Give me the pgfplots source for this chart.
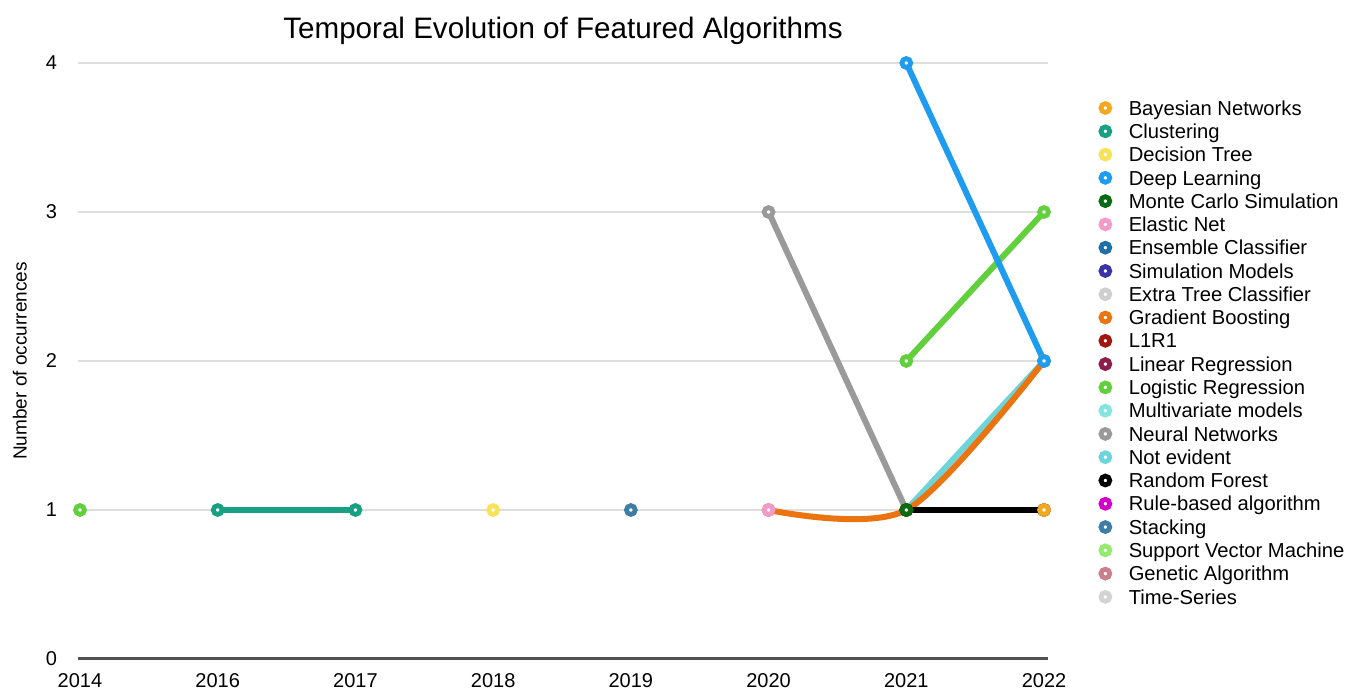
\documentclass[border=0pt]{standalone}
\usepackage{fontspec}
\setmainfont{Liberation Sans}
\usepackage{pgfplots}
\pgfplotsset{compat=1.18}

\definecolor{cBayes}{HTML}{F2A91F}
\definecolor{cClust}{HTML}{18A085}
\definecolor{cDTree}{HTML}{F7E35A}
\definecolor{cDeep}{HTML}{1E9CF0}
\definecolor{cMonte}{HTML}{0A6B12}
\definecolor{cElastic}{HTML}{F29BCB}
\definecolor{cEnsemble}{HTML}{1F6FA8}
\definecolor{cSimMod}{HTML}{3C34A5}
\definecolor{cExtra}{HTML}{CFCFCF}
\definecolor{cGrad}{HTML}{EB7310}
\definecolor{cLOneROne}{HTML}{A3150F}
\definecolor{cLinReg}{HTML}{8C1D4C}
\definecolor{cLogReg}{HTML}{62CF3C}
\definecolor{cMulti}{HTML}{82E5E0}
\definecolor{cNeural}{HTML}{9A9A9A}
\definecolor{cNotEv}{HTML}{6DD5DA}
\definecolor{cRF}{HTML}{000000}
\definecolor{cRule}{HTML}{D400C9}
\definecolor{cStack}{HTML}{3E7DA6}
\definecolor{cSVM}{HTML}{92EB6C}
\definecolor{cGenetic}{HTML}{C9808A}
\definecolor{cTime}{HTML}{D3D3D3}

\pgfplotsset{
  ring/.style={draw=#1, mark=*, mark size=2.2pt,
    mark options={fill=white, draw=#1, line width=2.4pt, solid}},
  trend/.style={ring=#1, line width=3pt, line cap=round, forget plot},
}

\begin{document}
\begin{tikzpicture}
\useasboundingbox (-39pt,-17.5pt) rectangle (644.5pt,329.5pt);
\begin{axis}[
  width=485pt, height=298pt, scale only axis,
  xmin=-0.0145, xmax=7.029, ymin=0, ymax=4,
  clip=false,
  unbounded coords=jump,
  xtick={0,...,7},
  xticklabels={2014,2016,2017,2018,2019,2020,2021,2022},
  ytick={1,2,3,4},
  extra y ticks={0},
  extra y tick style={ymajorgrids=true, major grid style={draw=black!68, line width=1.5pt}},
  ymajorgrids,
  major grid style={draw=black!13, line width=0.75pt},
  axis line style={draw=none},
  major tick length=0pt,
  tick label style={font=\fontsize{10}{12}\selectfont},
  /pgf/number format/assume math mode=true,
  xticklabel style={yshift=-3.5pt},
  yticklabel style={xshift=-7pt},
  ylabel={Number of occurrences},
  ylabel style={at={(axis description cs:-0.06,0.5)}, anchor=center,
    font=\fontsize{9.5}{11}\selectfont},
  title={Temporal Evolution of Featured Algorithms},
  title style={at={(axis description cs:0.5,1)}, anchor=base, yshift=6pt,
    font=\fontsize{14.8}{17}\selectfont},
  legend cell align=left,
  legend image code/.code={\draw[#1, /tikz/only marks] plot coordinates {(0pt,0pt)};},
  legend style={at={(axis description cs:1.0546,0.944)}, anchor=north west,
    draw=none, fill=none, inner sep=0pt, outer sep=0pt,
    row sep=0pt, column sep=9.5pt,
    font=\fontsize{10.1}{12}\selectfont,
    nodes={inner sep=0pt, text height=9.4pt, text depth=2.24pt}},
]

% series lines and markers (drawn back to front)
\addplot[trend=cNotEv] coordinates {(6,1) (7,2)};
\addplot[trend=cNeural] coordinates {(5,3) (6,1)};
\addplot[trend=cGrad, smooth] coordinates {(5,1) (6,1) (7,2)};
\addplot[trend=cElastic] coordinates {(5,1)};
\addplot[trend=cLogReg] coordinates {(0,1) (3,nan) (6,2) (7,3)};
\addplot[trend=cRF] coordinates {(6,1) (7,1)};
\addplot[trend=cDeep] coordinates {(6,4) (7,2)};
\addplot[trend=cMonte] coordinates {(6,1)};
\addplot[trend=cBayes] coordinates {(7,1)};
\addplot[trend=cClust] coordinates {(1,1) (2,1)};
\addplot[trend=cDTree] coordinates {(3,1)};
\addplot[trend=cStack] coordinates {(4,1)};

% legend
\addlegendimage{ring=cBayes}\addlegendentry{Bayesian Networks}
\addlegendimage{ring=cClust}\addlegendentry{Clustering}
\addlegendimage{ring=cDTree}\addlegendentry{Decision Tree}
\addlegendimage{ring=cDeep}\addlegendentry{Deep Learning}
\addlegendimage{ring=cMonte}\addlegendentry{Monte Carlo Simulation}
\addlegendimage{ring=cElastic}\addlegendentry{Elastic Net}
\addlegendimage{ring=cEnsemble}\addlegendentry{Ensemble Classifier}
\addlegendimage{ring=cSimMod}\addlegendentry{Simulation Models}
\addlegendimage{ring=cExtra}\addlegendentry{Extra Tree Classifier}
\addlegendimage{ring=cGrad}\addlegendentry{Gradient Boosting}
\addlegendimage{ring=cLOneROne}\addlegendentry{L1R1}
\addlegendimage{ring=cLinReg}\addlegendentry{Linear Regression}
\addlegendimage{ring=cLogReg}\addlegendentry{Logistic Regression}
\addlegendimage{ring=cMulti}\addlegendentry{Multivariate models}
\addlegendimage{ring=cNeural}\addlegendentry{Neural Networks}
\addlegendimage{ring=cNotEv}\addlegendentry{Not evident}
\addlegendimage{ring=cRF}\addlegendentry{Random Forest}
\addlegendimage{ring=cRule}\addlegendentry{Rule-based algorithm}
\addlegendimage{ring=cStack}\addlegendentry{Stacking}
\addlegendimage{ring=cSVM}\addlegendentry{Support Vector Machine}
\addlegendimage{ring=cGenetic}\addlegendentry{Genetic Algorithm}
\addlegendimage{ring=cTime}\addlegendentry{Time-Series}
\end{axis}
\end{tikzpicture}
\end{document}
